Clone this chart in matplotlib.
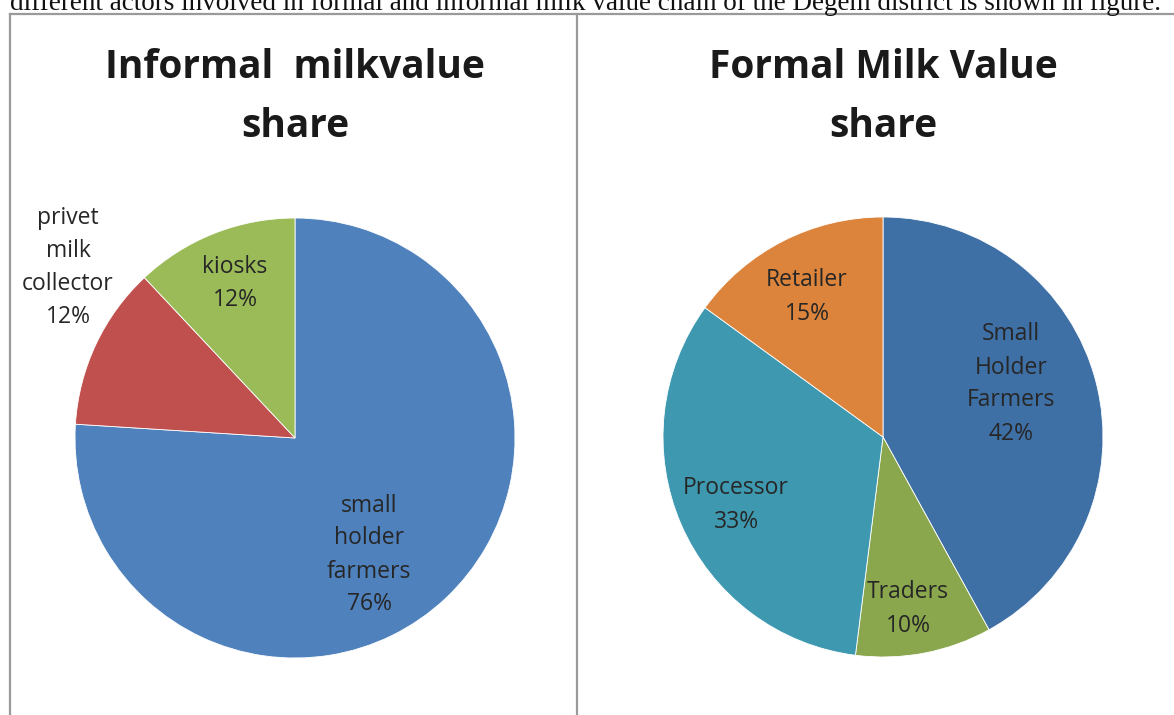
import matplotlib.pyplot as plt
from matplotlib.lines import Line2D

W, H = 1174, 715

# informal chain
informal_labels = ['small\nholder\nfarmers\n76%', 'privet\nmilk\ncollector\n12%', 'kiosks\n12%']
informal_values = [76, 12, 12]
informal_colors = ['#4F81BD', '#C0504D', '#9BBB59']

# formal chain
formal_labels = ['Small\nHolder\nFarmers\n42%', 'Traders\n10%', 'Processor\n33%', 'Retailer\n15%']
formal_values = [42, 10, 33, 15]
formal_colors = ['#3E70A6', '#8BA74E', '#3E99B0', '#DC843B']

header = ('different actors involved in formal and informal milk value chain '
          'of the Degem district is shown in figure.')


def px_axes(fig, cx, cy, r):
    # square axes around a pie centre given in pixels
    return fig.add_axes([(cx - r) / W, 1 - (cy + r) / H, 2 * r / W, 2 * r / H])


def draw_pie(ax, values, colors, labels, label_pos, cx, cy, r):
    ax.pie(values, colors=colors, startangle=90, counterclock=False,
           radius=1, wedgeprops=dict(linewidth=0.6, edgecolor='white'))
    ax.set_xlim(-1, 1)
    ax.set_ylim(-1, 1)
    ax.set_aspect('equal')
    ax.axis('off')
    for lab, (px, py) in zip(labels, label_pos):
        ax.text((px - cx) / r, (cy - py) / r, lab, ha='center', va='center',
                fontsize=16.5, family='Open Sans', color='#262626',
                linespacing=1.5)


fig = plt.figure(figsize=(W / 100, H / 100), dpi=100)

fig.text(10 / W, 1 - 10 / H, header, family='Liberation Serif', fontsize=19.5,
         ha='left', va='baseline', color='#111111')

# panel borders
grey = '#9a9a9a'
fig.add_artist(Line2D([10 / W, 1], [1 - 14 / H, 1 - 14 / H], color=grey, lw=1.6))
fig.add_artist(Line2D([10 / W, 10 / W], [0, 1 - 14 / H], color=grey, lw=1.6))
fig.add_artist(Line2D([577 / W, 577 / W], [0, 1 - 14 / H], color=grey, lw=1.6))

fig.text(295 / W, 1 - 97 / H, 'Informal  milkvalue\nshare', ha='center', va='center',
         fontsize=28, fontweight='bold', family='Open Sans', color='#1a1a1a',
         linespacing=1.65)
fig.text(883 / W, 1 - 97 / H, 'Formal Milk Value\nshare', ha='center', va='center',
         fontsize=28, fontweight='bold', family='Open Sans', color='#1a1a1a',
         linespacing=1.65)

ax1 = px_axes(fig, 295, 438, 220)
draw_pie(ax1, informal_values, informal_colors, informal_labels,
         [(369, 555), (68, 268), (235, 284)], 295, 438, 220)

ax2 = px_axes(fig, 883, 437, 220)
draw_pie(ax2, formal_values, formal_colors, formal_labels,
         [(1011, 384), (908, 609), (736, 505), (807, 297)], 883, 437, 220)

fig.savefig('out.png', dpi=100)
